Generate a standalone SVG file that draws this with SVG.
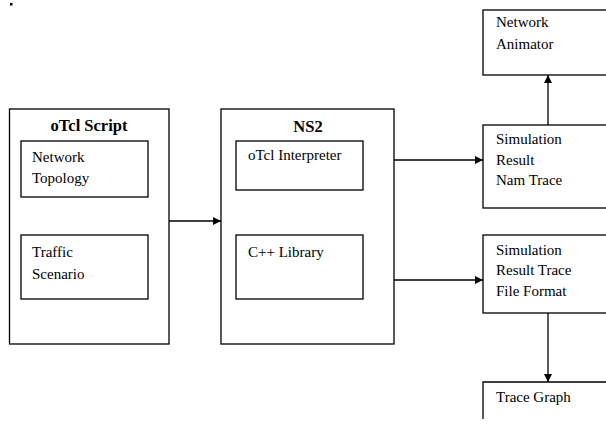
<svg xmlns="http://www.w3.org/2000/svg" width="606" height="429" viewBox="0 0 606 429">
<defs>
<style>
.box{fill:#fff;stroke:#000;stroke-width:1.3}
.t{font-family:'Liberation Serif','Times New Roman','DejaVu Serif',serif;font-size:15px;fill:#000}
.b{font-family:'Liberation Serif','Times New Roman','DejaVu Serif',serif;font-size:16.5px;font-weight:bold;fill:#000;text-anchor:middle}
.c{stroke:#000;stroke-width:1.3;fill:none}
</style>
<marker id="ah" markerWidth="8" markerHeight="8" viewBox="0 0 8 8" refX="8" refY="4" orient="auto" markerUnits="userSpaceOnUse">
<path d="M0,0 L8,4 L0,8 Z" fill="#000"/>
</marker>
</defs>
<rect width="606" height="429" fill="#fff"/>
<rect x="10" y="3" width="2.5" height="2.5" fill="#000"/>

<g id="otcl-script">
<rect class="box" x="9.5" y="109" width="159.5" height="235"/>
<text class="b" x="89" y="131">oTcl Script</text>
</g>
<g id="network-topology">
<rect class="box" x="21" y="141" width="127" height="56"/>
<text class="t" x="32" y="162">Network</text>
<text class="t" x="32" y="183">Topology</text>
</g>
<g id="traffic-scenario">
<rect class="box" x="21" y="235" width="127" height="64"/>
<text class="t" x="32" y="257">Traffic</text>
<text class="t" x="32" y="279">Scenario</text>
</g>

<g id="ns2">
<rect class="box" x="221" y="109" width="173" height="235"/>
<text class="b" x="308" y="132">NS2</text>
</g>
<g id="otcl-interpreter">
<rect class="box" x="236" y="141" width="127" height="49"/>
<text class="t" x="248" y="160">oTcl Interpreter</text>
</g>
<g id="cpp-library">
<rect class="box" x="236" y="235" width="127" height="64"/>
<text class="t" x="248" y="257">C++ Library</text>
</g>

<g id="network-animator">
<rect class="box" x="483" y="10" width="130" height="65"/>
<text class="t" x="496" y="27">Network</text>
<text class="t" x="496" y="49">Animator</text>
</g>
<g id="sim-nam">
<rect class="box" x="483" y="125" width="130" height="83"/>
<text class="t" x="496" y="144">Simulation</text>
<text class="t" x="496" y="165">Result</text>
<text class="t" x="496" y="185">Nam Trace</text>
</g>
<g id="sim-trace">
<rect class="box" x="483" y="235" width="130" height="78"/>
<text class="t" x="496" y="255">Simulation</text>
<text class="t" x="496" y="275">Result Trace</text>
<text class="t" x="496" y="296">File Format</text>
</g>
<g id="trace-graph">
<path class="c" d="M613,382 H483 V419"/>
<text class="t" x="496" y="402">Trace Graph</text>
</g>

<g id="connectors">
<line class="c" x1="169" y1="221" x2="221" y2="221" marker-end="url(#ah)"/>
<line class="c" x1="394" y1="160" x2="483" y2="160" marker-end="url(#ah)"/>
<line class="c" x1="394" y1="280" x2="483" y2="280" marker-end="url(#ah)"/>
<line class="c" x1="548" y1="125" x2="548" y2="75" marker-end="url(#ah)"/>
<line class="c" x1="548" y1="313" x2="548" y2="382" marker-end="url(#ah)"/>
</g>
</svg>
